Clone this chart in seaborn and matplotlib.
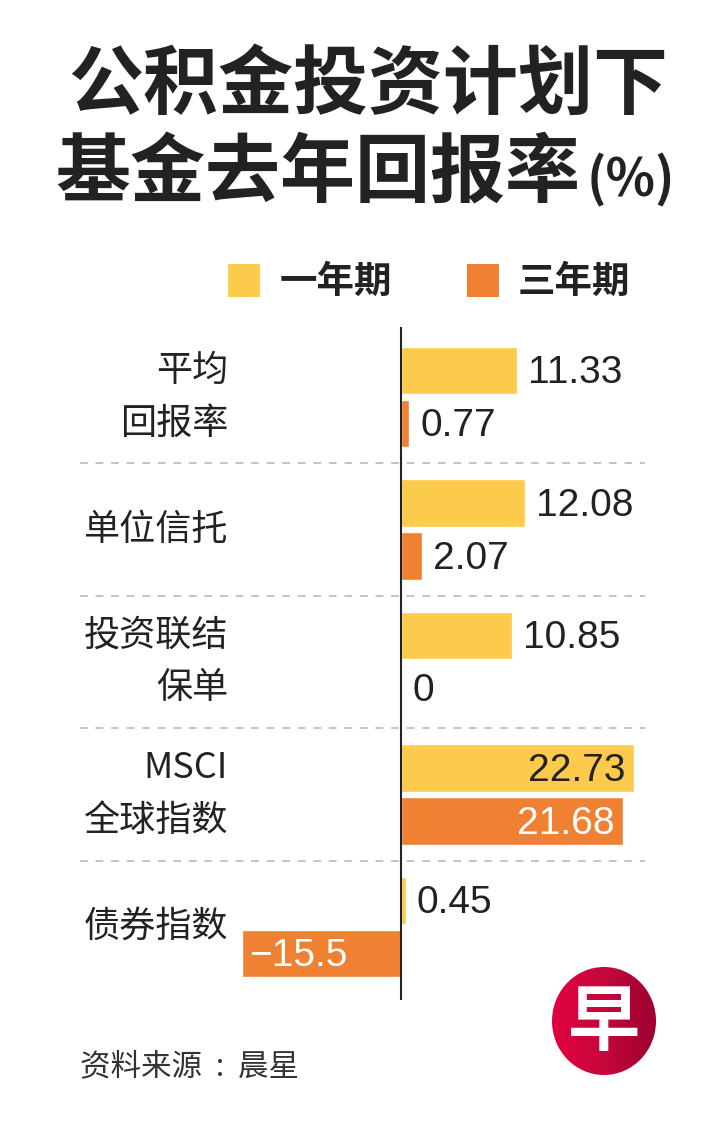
import numpy as np
import pandas as pd
import matplotlib
matplotlib.use('Agg')
import matplotlib.pyplot as plt
import seaborn as sns
from matplotlib.patches import Rectangle, Ellipse
from matplotlib.colors import LinearSegmentedColormap

# 数据
categories = ['平均回报率', '单位信托', '投资联结保单', 'MSCI全球指数', '债券指数']
label_lines = [['平均', '回报率'], ['单位信托'], ['投资联结', '保单'], ['MSCI', '全球指数'], ['债券指数']]
periods = ['一年期', '三年期']
one_year = [11.33, 12.08, 10.85, 22.73, 0.45]
three_year = [0.77, 2.07, 0, 21.68, -15.5]
colors = ['#fdcb4c', '#f08133']

df = pd.DataFrame({
    'category': categories * 2,
    'period': [periods[0]] * len(categories) + [periods[1]] * len(categories),
    'value': one_year + three_year,
})

sns.set_style('white')
plt.rcParams['font.family'] = ['Noto Sans CJK SC', 'DejaVu Sans']
num_font = ['Liberation Sans', 'DejaVu Sans']
dark = '#222222'

W, H = 727, 1129
fig = plt.figure(figsize=(W / 100, H / 100), dpi=100)

# 主图
ax = fig.add_axes([80 / W, 1 - 1000 / H, 565 / W, 673 / H])
sns.barplot(data=df, y='category', x='value', hue='period', hue_order=periods,
            order=categories, palette=colors, orient='h', width=0.8, gap=0.11,
            saturation=1, errorbar=None, legend=False, ax=ax)
ax.set_xlim(-31.32, 23.80)
ax.set_ylim(4.551, -0.528)
ax.axis('off')

ax.axvline(0, color=dark, lw=1.5, zorder=5)
for i in range(len(categories) - 1):
    ax.axhline(i + 0.5, color='#c4c4c4', lw=1.4, ls=(0, (4, 4)), zorder=0)

# 数值标签
for k, (cont, vals) in enumerate(zip(ax.containers, [one_year, three_year])):
    for bar, v in zip(cont, vals):
        y = bar.get_y() + bar.get_height() / 2
        txt = f'{v:g}'.replace('-', '−')
        if v > 20:
            ax.annotate(txt, (v, y), xytext=(-6, -2), textcoords='offset points',
                        ha='right', va='center', fontsize=28, family=num_font,
                        color=dark if k == 0 else 'white')
        elif v < 0:
            ax.annotate(txt, (v, y), xytext=(5, -2), textcoords='offset points',
                        ha='left', va='center', fontsize=28, family=num_font,
                        color='white')
        else:
            ax.annotate(txt, (v, y), xytext=(8, -2), textcoords='offset points',
                        ha='left', va='center', fontsize=28, family=num_font,
                        color=dark)

# 类别标签
label_x = (228 - 401) / 10.25
for i, lines in enumerate(label_lines):
    ys = [i - 0.2, i + 0.2] if len(lines) == 2 else [i]
    for line, y in zip(lines, ys):
        ax.text(label_x, y, line, ha='right', va='center', fontsize=26, color=dark)

# 标题
fig.text(68 / W, 1 - 86 / H, '公积金投资计划下', fontsize=54, weight='black',
         va='center', color=dark)
fig.text(55 / W, 1 - 174 / H, '基金去年回报率', fontsize=54, weight='black',
         va='center', color=dark)
fig.text(587 / W, 1 - 180 / H, '(%)', fontsize=37, weight='bold',
         va='center', color=dark)

# 图例
for (x0, tx), name, col in zip([(228, 280), (467, 518)], periods, colors):
    fig.add_artist(Rectangle((x0 / W, 1 - 297 / H), 32 / W, 33 / H,
                             transform=fig.transFigure, color=col, lw=0))
    fig.text(tx / W, 1 - 281 / H, name, fontsize=27, weight='bold',
             va='center', color=dark)

# 资料来源
fig.text(80 / W, 1 - 1067 / H, '资料来源  :  晨星', fontsize=22, va='center', color='#333333')

# 标志
logo = fig.add_axes([552 / W, 1 - 1075 / H, 104 / W, 108 / H])
cmap = LinearSegmentedColormap.from_list('logo', ['#e3003f', '#c5083c', '#9e0030'])
grad = np.tile(np.linspace(0, 1, 200), (200, 1))
im = logo.imshow(grad, cmap=cmap, extent=(0, 1, 0, 1), aspect='auto')
clip = Ellipse((0.5, 0.5), 1, 1, transform=logo.transAxes)
im.set_clip_path(clip)
logo.text(0.5, 0.47, '早', ha='center', va='center', fontsize=52, weight='bold',
          color='white', transform=logo.transAxes)
logo.axis('off')

fig.savefig('out.png', dpi=100, facecolor='white')
